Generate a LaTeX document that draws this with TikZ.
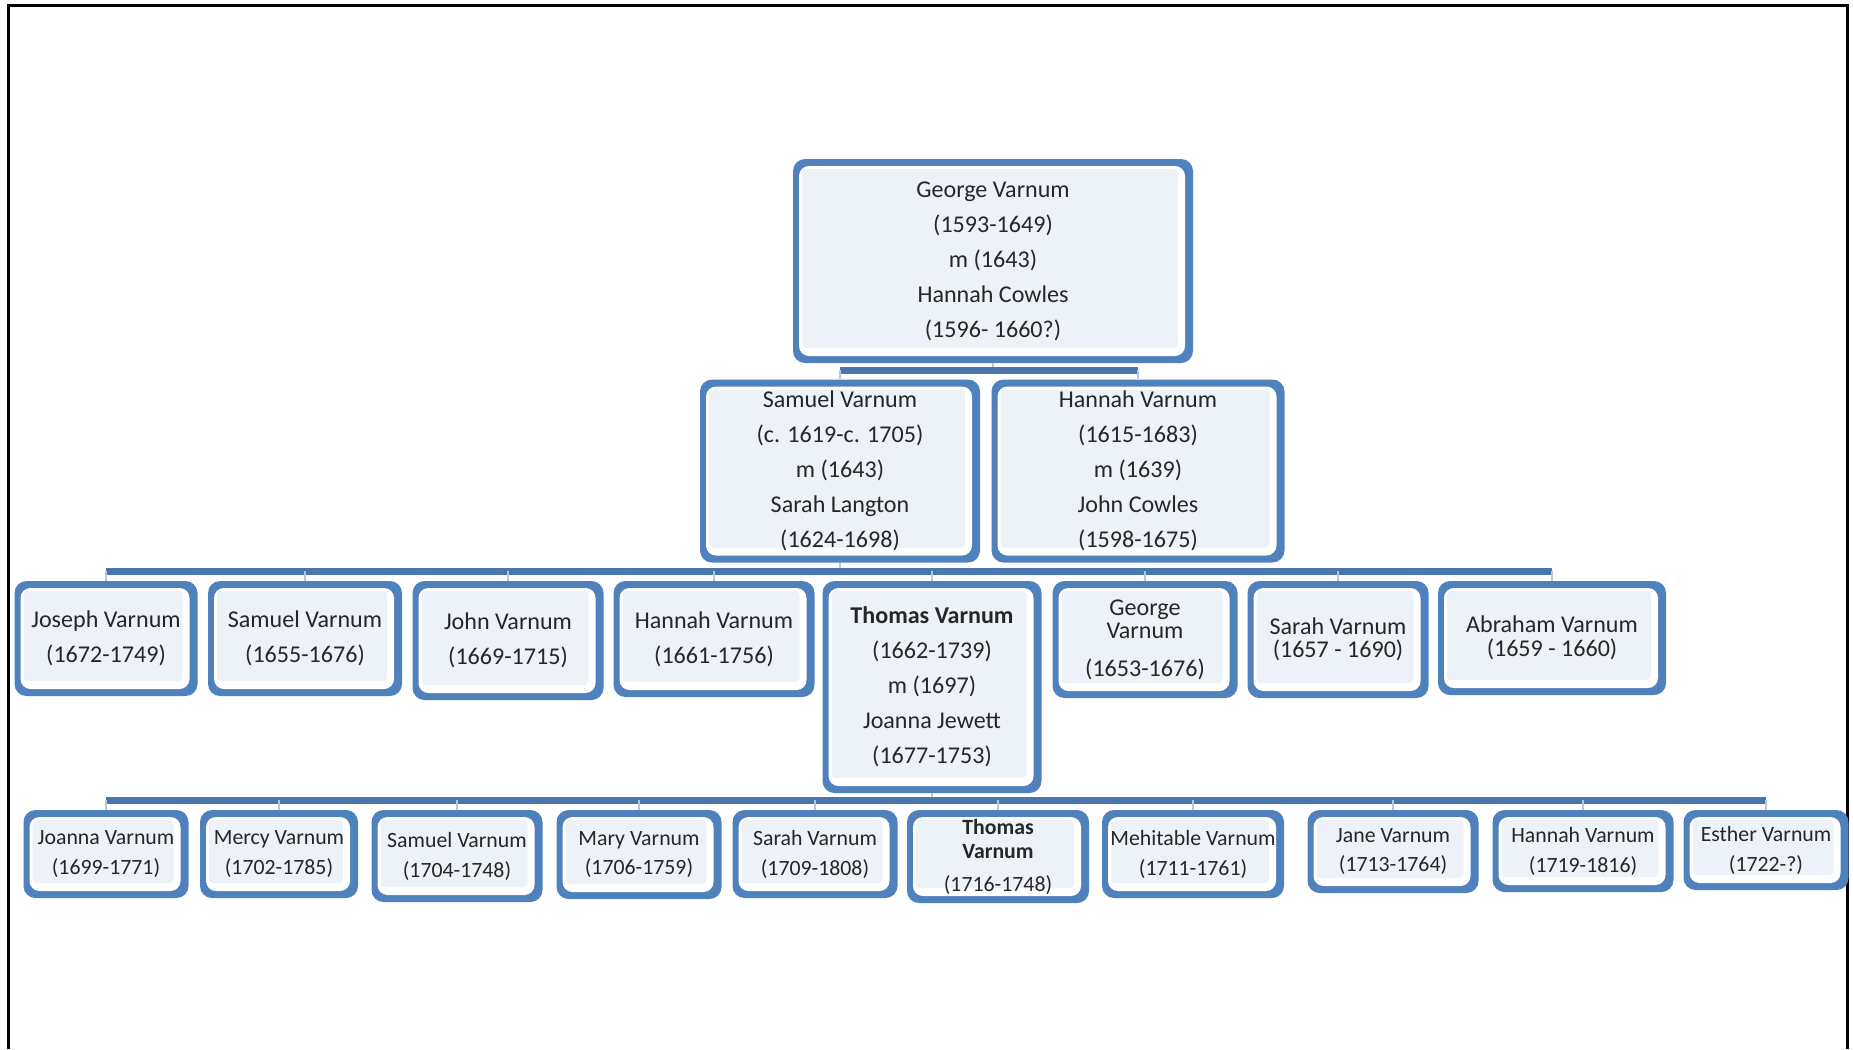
\documentclass[tikz,border=0pt]{standalone}
\usepackage{fontspec}
\setmainfont{Carlito}
\usetikzlibrary{backgrounds}
\definecolor{boxBlue}{HTML}{4F81BD}
\definecolor{barBlue}{HTML}{4A76AE}
\definecolor{boxFill}{HTML}{EDF1F8}
\definecolor{nameText}{HTML}{262626}
\newcommand\bigtxt{\fontsize{13.7}{19.9}\selectfont}
\newcommand\midtxt{\fontsize{13.7}{13.4}\selectfont}
\newcommand\smalltxt{\fontsize{12.4}{17}\selectfont}

\begin{document}
\begin{tikzpicture}[x=0.2mm, y=-0.2mm,
  person/.style={fill=boxBlue, rounded corners=2.4mm, inner sep=0pt, align=center, text=nameText, font=\bigtxt,
    path picture={
      \fill[white, rounded corners=2mm] ([xshift=1.2mm,yshift=-1.4mm]path picture bounding box.north west) rectangle ([xshift=-1.6mm,yshift=1.4mm]path picture bounding box.south east);
      \fill[boxFill, rounded corners=0.8mm] ([xshift=1.8mm,yshift=-2mm]path picture bounding box.north west) rectangle ([xshift=-3mm,yshift=3mm]path picture bounding box.south east);
    }},
  link/.style={draw=barBlue, line width=1.4mm},
  drop/.style={draw=barBlue!40, line width=0.4mm}]
  \useasboundingbox (0,0) rectangle (1853,1049);
  % frame
  \draw[line width=0.6mm] (8,1049) -- (8,5) -- (1847,5) -- (1847,1049);

  % first generation
  \node[person, minimum width=80mm, minimum height=40.8mm] (george) at (993,261)
    {George Varnum\\(1593-1649)\\m (1643)\\Hannah Cowles\\(1596- 1660?)};

  % second generation
  \node[person, minimum width=56mm, minimum height=36.6mm] (samuel) at (840,471)
    {Samuel Varnum\\(c. 1619-c. 1705)\\m (1643)\\Sarah Langton\\(1624-1698)};
  \node[person, minimum width=58.6mm, minimum height=36.6mm] (hannah) at (1138,471)
    {Hannah Varnum\\(1615-1683)\\m (1639)\\John Cowles\\(1598-1675)};

  % third generation
  \foreach \x/\w/\h/\nm/\fnt/\txt in {106/183/115/joseph/\bigtxt/{Joseph Varnum\\(1672-1749)},
      305/194/115/samuelB/\bigtxt/{Samuel Varnum\\(1655-1676)},
      508/191/119/john/\bigtxt/{John Varnum\\(1669-1715)},
      714/201/116/hannahB/\bigtxt/{Hannah Varnum\\(1661-1756)},
      1145/185/117/georgeB/\midtxt/{George\\Varnum\\[8pt](1653-1676)},
      1338/181/117/sarahB/\midtxt/{Sarah Varnum\\(1657 - 1690)},
      1552/228/114/abraham/\midtxt/{Abraham Varnum\\(1659 - 1660)}}
    \node[person, font=\fnt, minimum width=\w*0.2mm, minimum height=\h*0.2mm] (\nm) at (\x,{581+\h/2}) {\txt};
  \node[person, minimum width=43.8mm, minimum height=42.4mm] (thomas) at (932,687)
    {\textbf{Thomas Varnum}\\(1662-1739)\\m (1697)\\Joanna Jewett\\(1677-1753)};

  % fourth generation
  \foreach \x/\w/\h/\nm/\txt in {106/165/88/joanna/{Joanna Varnum\\(1699-1771)},
      279/158/88/mercy/{Mercy Varnum\\(1702-1785)},
      457/171/92/samuelC/{Samuel Varnum\\(1704-1748)},
      639/165/89/mary/{Mary Varnum\\(1706-1759)},
      815/165/88/sarahC/{Sarah Varnum\\(1709-1808)},
      998/182/93/thomasC/{\textbf{Thomas}\\[-3.4pt]\textbf{Varnum}\\[1.8pt](1716-1748)},
      1193/182/88/mehitable/{Mehitable Varnum\\(1711-1761)},
      1393/171/83/jane/{Jane Varnum\\(1713-1764)},
      1583/181/82/hannahC/{Hannah Varnum\\(1719-1816)},
      1766/165/80/esther/{Esther Varnum\\(1722-?)}}
    \node[person, font=\smalltxt, minimum width=\w*0.2mm, minimum height=\h*0.2mm] (\nm) at (\x,{810+\h/2}) {\txt};

  % connectors
  \begin{scope}[on background layer]
    \coordinate (rowA) at (0,370);
    \coordinate (rowB) at (0,571);
    \coordinate (rowC) at (0,800);
    \draw[drop] (george) -- (george |- rowA);
    \draw[link] (samuel |- rowA) -- (hannah |- rowA);
    \foreach \n in {samuel,hannah} \draw[drop] (\n |- rowA) -- (\n);
    \draw[drop] (samuel) -- (samuel |- rowB);
    \draw[link] (joseph |- rowB) -- (abraham |- rowB);
    \foreach \n in {joseph,samuelB,john,hannahB,thomas,georgeB,sarahB,abraham} \draw[drop] (\n |- rowB) -- (\n);
    \draw[drop] (thomas) -- (thomas |- rowC);
    \draw[link] (joanna |- rowC) -- (esther |- rowC);
    \foreach \n in {joanna,mercy,samuelC,mary,sarahC,thomasC,mehitable,jane,hannahC,esther} \draw[drop] (\n |- rowC) -- (\n);
  \end{scope}
\end{tikzpicture}
\end{document}
